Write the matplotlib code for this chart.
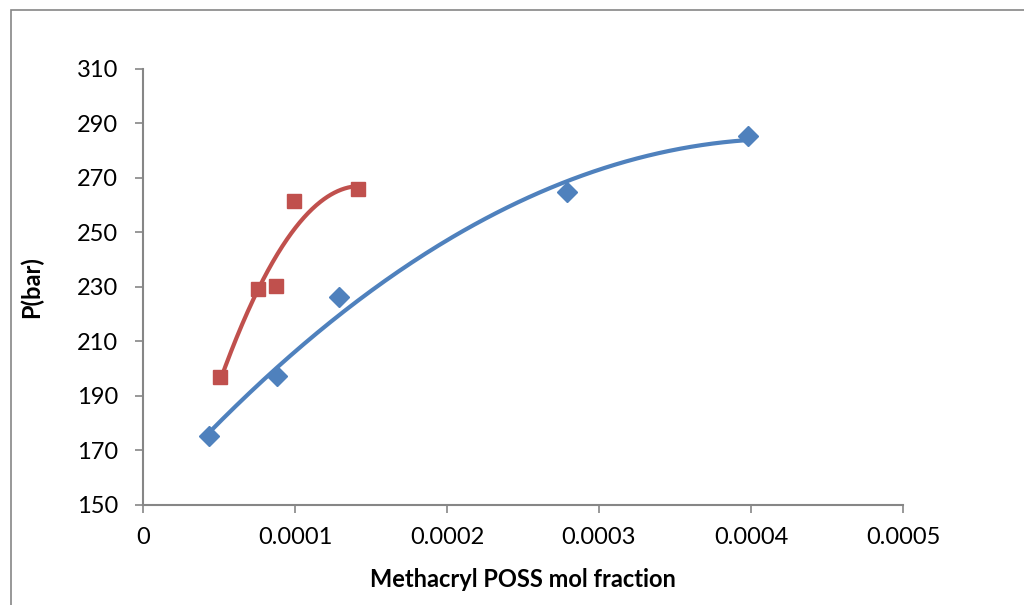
import numpy as np
import matplotlib
matplotlib.use('Agg')
import matplotlib.pyplot as plt
from matplotlib.patches import Rectangle

plt.rcParams['font.family'] = ['Lato', 'DejaVu Sans']

# blue series (diamonds)
blue_x = [0.0000434, 0.0000882, 0.000129, 0.000279, 0.000398]
blue_p = [175.5, 197.3, 226.3, 264.9, 285.3]

# red series (squares)
red_x = [0.0000507, 0.0000757, 0.0000875, 0.0000993, 0.0001414]
red_p = [197.0, 229.2, 230.3, 261.4, 265.8]

xticks = [0, 0.0001, 0.0002, 0.0003, 0.0004, 0.0005]
xtick_labels = ['0', '0.0001', '0.0002', '0.0003', '0.0004', '0.0005']
yticks = list(range(150, 311, 20))

BLUE = '#4F81BD'
RED = '#C0504D'
GRAY = '#868686'

fig = plt.figure(figsize=(10.24, 6.05), dpi=100)
ax = fig.add_axes([0.1396, 0.1653, 0.7422, 0.7207])

# 2nd order polynomial trendlines, like excel
for xs, ys, col in [(blue_x, blue_p, BLUE), (red_x, red_p, RED)]:
    coef = np.polyfit(xs, ys, 2)
    xx = np.linspace(min(xs), max(xs), 200)
    ax.plot(xx, np.polyval(coef, xx), color=col, lw=3, solid_capstyle='round', zorder=2)

ax.plot(blue_x, blue_p, 'D', color=BLUE, ms=10, zorder=3)
ax.plot(red_x, red_p, 's', color=RED, ms=10, zorder=3)

ax.set_xlim(0, 0.0005)
ax.set_ylim(150, 310)
ax.set_xticks(xticks)
ax.set_xticklabels(xtick_labels)
ax.set_yticks(yticks)
ax.tick_params(labelsize=17, length=6, width=1.2, color=GRAY)
ax.tick_params(axis='y', pad=12)
ax.tick_params(axis='x', pad=10)
for s in ['top', 'right']:
    ax.spines[s].set_visible(False)
for s in ['left', 'bottom']:
    ax.spines[s].set_color(GRAY)
    ax.spines[s].set_linewidth(1.5)

ax.set_xlabel('Methacryl POSS mol fraction', fontsize=17, fontweight='bold', labelpad=14)
ax.set_ylabel('P(bar)', fontsize=17, fontweight='bold', labelpad=24)

# outer chart border
fig.patches.append(Rectangle((11 / 1024, -0.1), 1.2, 1 - 10 / 605 + 0.1,
                             transform=fig.transFigure, fill=False,
                             edgecolor=GRAY, lw=1.2))

fig.savefig('out.png', dpi=100)
